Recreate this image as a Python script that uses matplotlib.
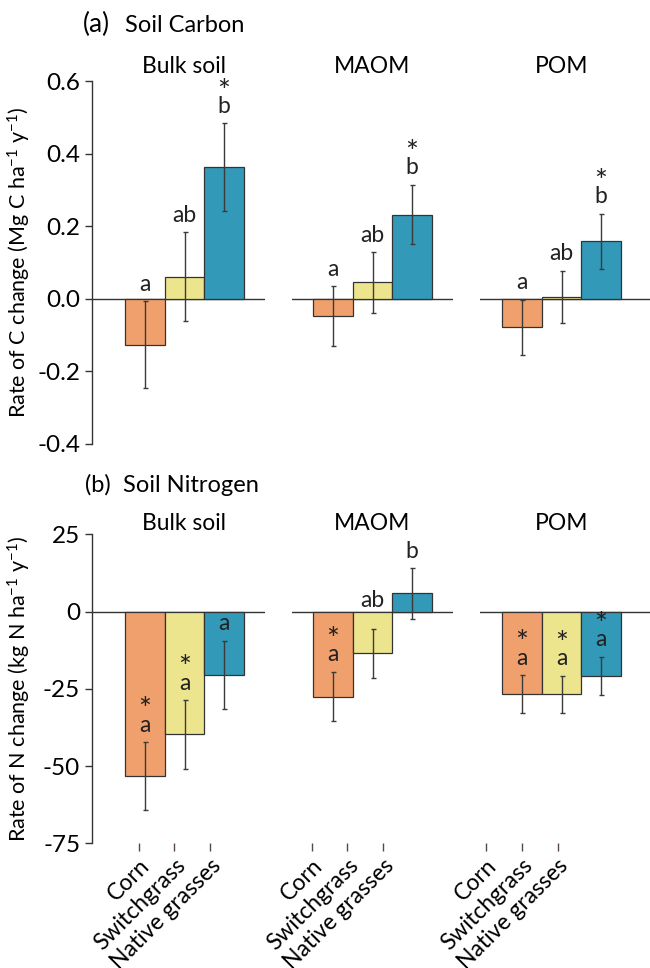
import numpy as np
import matplotlib
matplotlib.use('Agg')
import matplotlib.pyplot as plt

plt.rcParams['font.family'] = ['Lato', 'DejaVu Sans']
plt.rcParams['axes.unicode_minus'] = False
plt.rcParams['mathtext.fontset'] = 'custom'
plt.rcParams['mathtext.rm'] = 'Lato'
plt.rcParams['mathtext.default'] = 'regular'

SYSTEMS = ['Corn', 'Switchgrass', 'Native grasses']
FRACTIONS = ['Bulk soil', 'MAOM', 'POM']
COLOURS = ['#F0A06C', '#EDE58E', '#3399B8']

# soil carbon change (Mg C ha-1 y-1), mean and SE
c_bulk = [-0.127, 0.061, 0.363]
c_bulk_se = [0.120, 0.122, 0.120]
c_maom = [-0.048, 0.045, 0.232]
c_maom_se = [0.083, 0.083, 0.082]
c_pom = [-0.079, 0.005, 0.158]
c_pom_se = [0.076, 0.072, 0.076]
c_letters = [['a', 'ab', 'b'], ['a', 'ab', 'b'], ['a', 'ab', 'b']]
c_stars = [[0, 0, 1], [0, 0, 1], [0, 0, 1]]

# soil nitrogen change (kg N ha-1 y-1), mean and SE
n_bulk = [-53.2, -39.7, -20.5]
n_bulk_se = [10.9, 11.1, 11.0]
n_maom = [-27.5, -13.5, 5.9]
n_maom_se = [8.0, 8.0, 8.2]
n_pom = [-26.7, -26.7, -20.8]
n_pom_se = [6.1, 6.0, 6.2]
n_letters = [['a', 'a', 'a'], ['a', 'ab', 'b'], ['a', 'a', 'a']]
n_stars = [[1, 1, 0], [1, 0, 0], [1, 1, 1]]

ROWS = [
    dict(tag='(a)', name='Soil Carbon', means=[c_bulk, c_maom, c_pom],
         ses=[c_bulk_se, c_maom_se, c_pom_se], letters=c_letters, stars=c_stars,
         ylim=(-0.4, 0.6), yticks=np.arange(-0.4, 0.61, 0.2), fmt='{:.1f}',
         ylabel='Rate of C change (Mg C ha$^{-1}$ y$^{-1}$)'),
    dict(tag='(b)', name='Soil Nitrogen', means=[n_bulk, n_maom, n_pom],
         ses=[n_bulk_se, n_maom_se, n_pom_se], letters=n_letters, stars=n_stars,
         ylim=(-75, 25), yticks=np.arange(-75, 26, 25), fmt='{:.0f}',
         ylabel='Rate of N change (kg N ha$^{-1}$ y$^{-1}$)'),
]

# layout in pixels
W, H = 650, 968
ROW_PX = [(81, 444), (534.3, 843.3)]
COL_PX = [(92, 265, 145), (292, 453, 333), (480, 650, 522)]
UNIT = 39.5
TICK_SHIFT = [-0.16, -0.54, -0.91]
TITLE_PAD = [6.0, 3.1]
TAG_Y = [32.3, 491.5]
TAG_X = [83, 85]
NAME_X = [125, 123]
TAG_FS = [19, 17]
PX = 0.72  # points per pixel
FS = 16.5

fig = plt.figure(figsize=(W / 100, H / 100), dpi=100)
x = np.arange(3)
dark = '#333333'

for r, row in enumerate(ROWS):
    top, bot = ROW_PX[r]
    for c, (left, right, c0) in enumerate(COL_PX):
        ax = fig.add_axes([left / W, 1 - bot / H, (right - left) / W, (bot - top) / H])
        means = np.array(row['means'][c])
        ses = np.array(row['ses'][c])
        ax.bar(x, means, width=1.0, color=COLOURS, edgecolor=dark, linewidth=0.9, zorder=2)
        ax.errorbar(x, means, yerr=ses, fmt='none', ecolor='#3a3a3a', elinewidth=1.0,
                    capsize=1.8, capthick=1.0, zorder=3)
        ax.axhline(0, color=dark, lw=1.0, zorder=1)
        ax.set_xlim((left - c0) / UNIT, (right - c0) / UNIT)
        ax.set_ylim(*row['ylim'])
        ax.patch.set_visible(False)
        for s in ['top', 'right', 'bottom']:
            ax.spines[s].set_visible(False)
        if c == 0:
            ax.spines['left'].set_color(dark)
            ax.spines['left'].set_linewidth(1.0)
            ax.set_yticks(row['yticks'])
            ax.set_yticklabels([row['fmt'].format(v) for v in row['yticks']], fontsize=17.5)
            ax.tick_params(axis='y', length=5, width=1.0, color=dark, pad=3.5)
            ax.set_ylabel(row['ylabel'], fontsize=15.5)
            ax.yaxis.set_label_coords(-0.34, 0.5)
        else:
            ax.spines['left'].set_visible(False)
            ax.set_yticks([])
        if r == 1:
            ax.set_xticks(TICK_SHIFT[c] + 0.905 * x)
            ax.set_xticklabels(SYSTEMS, fontsize=FS, rotation=45, ha='right',
                               rotation_mode='anchor', va='top')
            ax.tick_params(axis='x', length=5.5, width=1.0, color='#5a4848', pad=3)
        else:
            ax.set_xticks([])

        ax.annotate(FRACTIONS[c], xy=(1, 1), xycoords=('data', 'axes fraction'),
                    xytext=(0, TITLE_PAD[r]), textcoords='offset points',
                    ha='center', va='baseline', fontsize=FS)

        # significance letters and asterisks above the error bars
        for i in range(3):
            y_top = means[i] + ses[i]
            extra = 0
            if row['letters'][c][i] == 'ab' and means[i] < 0 and y_top < 0:
                extra = 11 * PX
            ax.annotate(row['letters'][c][i], xy=(i, y_top), xytext=(0, 7.5 + extra),
                        textcoords='offset points', ha='center', va='baseline',
                        fontsize=FS, color='#222222', zorder=4)
            if row['stars'][c][i]:
                ax.annotate('*', xy=(i, y_top), xytext=(0, 16.5 + extra),
                            textcoords='offset points', ha='center', va='baseline',
                            fontsize=22, color='#222222', zorder=4)

    fig.text(TAG_X[r] / W, 1 - TAG_Y[r] / H, row['tag'], fontsize=TAG_FS[r],
             ha='left', va='baseline')
    fig.text(NAME_X[r] / W, 1 - TAG_Y[r] / H, row['name'], fontsize=17,
             ha='left', va='baseline')

fig.savefig('out.png', dpi=100)
